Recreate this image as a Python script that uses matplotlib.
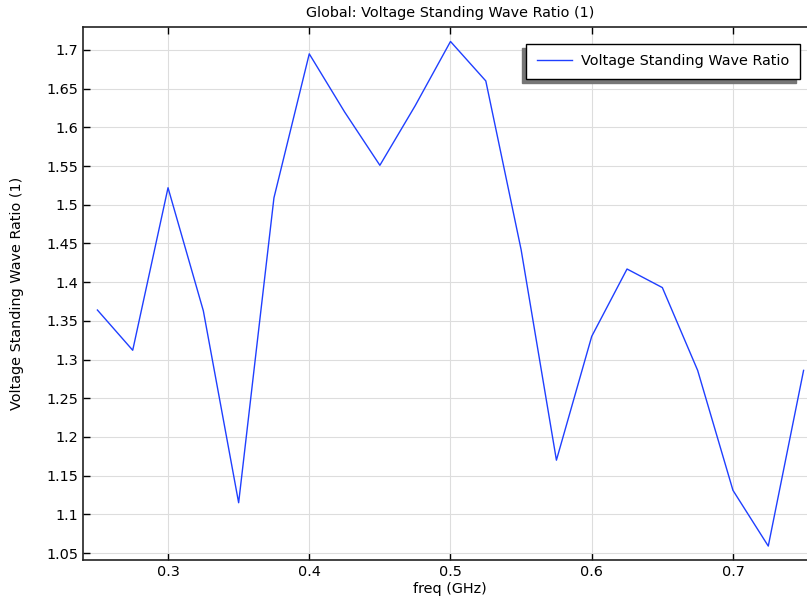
import matplotlib
matplotlib.use("Agg")
import matplotlib.pyplot as plt
import numpy as np

# frequency sweep (GHz) and VSWR values
freq = [0.25, 0.275, 0.3, 0.325, 0.35, 0.375, 0.4, 0.425, 0.45, 0.475, 0.5,
        0.525, 0.55, 0.575, 0.6, 0.625, 0.65, 0.675, 0.7, 0.725, 0.75]
vswr = [1.364, 1.312, 1.522, 1.363, 1.115, 1.509, 1.695, 1.620, 1.551, 1.628, 1.711,
        1.660, 1.442, 1.170, 1.330, 1.417, 1.393, 1.286, 1.131, 1.059, 1.286]

xticks = [0.3, 0.4, 0.5, 0.6, 0.7]
yticks = [1.05, 1.1, 1.15, 1.2, 1.25, 1.3, 1.35, 1.4, 1.45, 1.5, 1.55, 1.6, 1.65, 1.7]
ytick_labels = ["1.05", "1.1", "1.15", "1.2", "1.25", "1.3", "1.35", "1.4",
                "1.45", "1.5", "1.55", "1.6", "1.65", "1.7"]

fs = 10.4

fig = plt.figure(figsize=(8.07, 6.0), dpi=100)
# axes run a little past the right edge of the image, as in the original
ax = fig.add_axes([83/807, 40/600, (817 - 83)/807, 533/600])

ax.plot(freq, vswr, color="#1f3fff", lw=1.0, label="Voltage Standing Wave Ratio")

ax.set_xlim(0.2398, 0.7595)
ax.set_ylim(1.041, 1.7297)
ax.set_xticks(xticks)
ax.set_yticks(yticks)
ax.set_yticklabels(ytick_labels)
ax.tick_params(direction="in", length=5, width=1, labelsize=fs, top=True, right=False)
ax.grid(True, color="#dddddd", lw=0.8)
ax.set_axisbelow(True)
for s in ax.spines.values():
    s.set_linewidth(1.2)
    s.set_color("#222222")
ax.spines["right"].set_visible(False)

ax.set_title("Global: Voltage Standing Wave Ratio (1)", fontsize=fs, pad=7)
ax.set_xlabel("freq (GHz)", fontsize=fs, labelpad=2)
ax.set_ylabel("Voltage Standing Wave Ratio (1)", fontsize=fs, labelpad=16)

leg = ax.legend(loc="upper right", fontsize=fs, fancybox=False,
                shadow={"ox": -3, "oy": -3, "color": "#767676", "alpha": 1},
                framealpha=1, edgecolor="black", borderpad=0.72,
                handlelength=2.45, handletextpad=0.65,
                bbox_to_anchor=(800/807, 1 - 44/600),
                bbox_transform=fig.transFigure, borderaxespad=0)
leg.get_frame().set_linewidth(1.0)

fig.savefig("out.png", dpi=100)
